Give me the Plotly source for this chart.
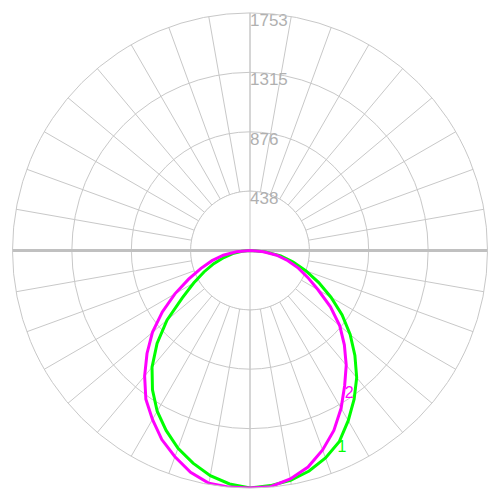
import plotly.graph_objects as go

# ---- data (candela values) ----
angles = [0, 5, 10, 15, 20, 25, 30, 35, 40, 45, 50, 55, 60, 65, 70, 75, 80, 85, 90]
curve1_right = [1753, 1742, 1722, 1685, 1630, 1558, 1450, 1340, 1225, 1095, 965, 830, 690, 560, 440, 330, 230, 115, 0]
curve1_left = [1753, 1730, 1688, 1625, 1553, 1465, 1370, 1255, 1125, 970, 800, 610, 480, 375, 285, 200, 130, 60, 0]
curve2_right = [1753, 1750, 1712, 1655, 1567, 1465, 1345, 1218, 1105, 985, 865, 725, 580, 470, 380, 290, 200, 100, 0]
curve2_left = [1753, 1753, 1745, 1695, 1620, 1540, 1440, 1340, 1210, 1075, 940, 790, 640, 500, 385, 290, 200, 100, 0]

tick_vals = [438, 876, 1315, 1753]
tick_text = ["438", "876", "1315", "1753"]
curve_names = ["1", "2"]
label_theta = [25, 34.6]
label_r = [1605, 1290]

GRID = "#c8c8c8"
GREEN = "#00ff00"
MAGENTA = "#ff00ff"
rmax = tick_vals[-1]
rin = tick_vals[0]


def full_plane(left, right):
    th = [-a for a in reversed(angles)] + angles[1:]
    rr = list(reversed(left)) + right[1:]
    return th, rr


fig = go.Figure()

# white inner disk (no spokes inside the first ring)
disk_theta = list(range(0, 361, 2))
fig.add_trace(go.Scatterpolar(
    r=[rin] * len(disk_theta), theta=disk_theta, mode="lines",
    fill="toself", fillcolor="white", line=dict(color=GRID, width=1),
    hoverinfo="skip", showlegend=False))

# vertical axis line through the centre
fig.add_trace(go.Scatterpolar(
    r=[rmax, 0, rmax], theta=[0, 0, 180], mode="lines",
    line=dict(color=GRID, width=1), hoverinfo="skip", showlegend=False))
# horizontal (thicker) line
fig.add_trace(go.Scatterpolar(
    r=[rmax, 0, rmax], theta=[90, 90, 270], mode="lines",
    line=dict(color="#c0c0c0", width=3), hoverinfo="skip", showlegend=False))

# radial tick labels along the vertical axis
fig.add_trace(go.Scatterpolar(
    r=tick_vals, theta=[180] * len(tick_vals), mode="text",
    text=tick_text, textposition="bottom right",
    textfont=dict(family="Liberation Sans, Arial, sans-serif", size=17, color="#b0b0b0"),
    hoverinfo="skip", showlegend=False))

# curves
th1, r1 = full_plane(curve1_left, curve1_right)
th2, r2 = full_plane(curve2_left, curve2_right)
fig.add_trace(go.Scatterpolar(r=r1, theta=th1, mode="lines",
                              line=dict(color=GREEN, width=3),
                              hoverinfo="skip", showlegend=False))
fig.add_trace(go.Scatterpolar(r=r2, theta=th2, mode="lines",
                              line=dict(color=MAGENTA, width=3),
                              hoverinfo="skip", showlegend=False))

# curve labels
fig.add_trace(go.Scatterpolar(
    r=label_r, theta=label_theta, mode="text", text=curve_names,
    textposition="middle center",
    textfont=dict(family="Liberation Sans, Arial, sans-serif", size=16, color=[GREEN, MAGENTA]),
    hoverinfo="skip", showlegend=False))

fig.update_layout(
    width=500, height=500,
    margin=dict(l=4, r=20, t=5, b=20),
    paper_bgcolor="white",
    showlegend=False,
    polar=dict(
        bgcolor="white",
        angularaxis=dict(rotation=-90, direction="counterclockwise",
                         tickmode="linear", tick0=0, dtick=10,
                         showticklabels=False, ticks="",
                         gridcolor=GRID, gridwidth=1,
                         showline=True, linecolor=GRID, linewidth=1),
        radialaxis=dict(range=[0, rmax], tickvals=tick_vals,
                        showticklabels=False, ticks="", showline=False,
                        gridcolor=GRID, gridwidth=1),
    ),
)

fig.write_html("out.html")
